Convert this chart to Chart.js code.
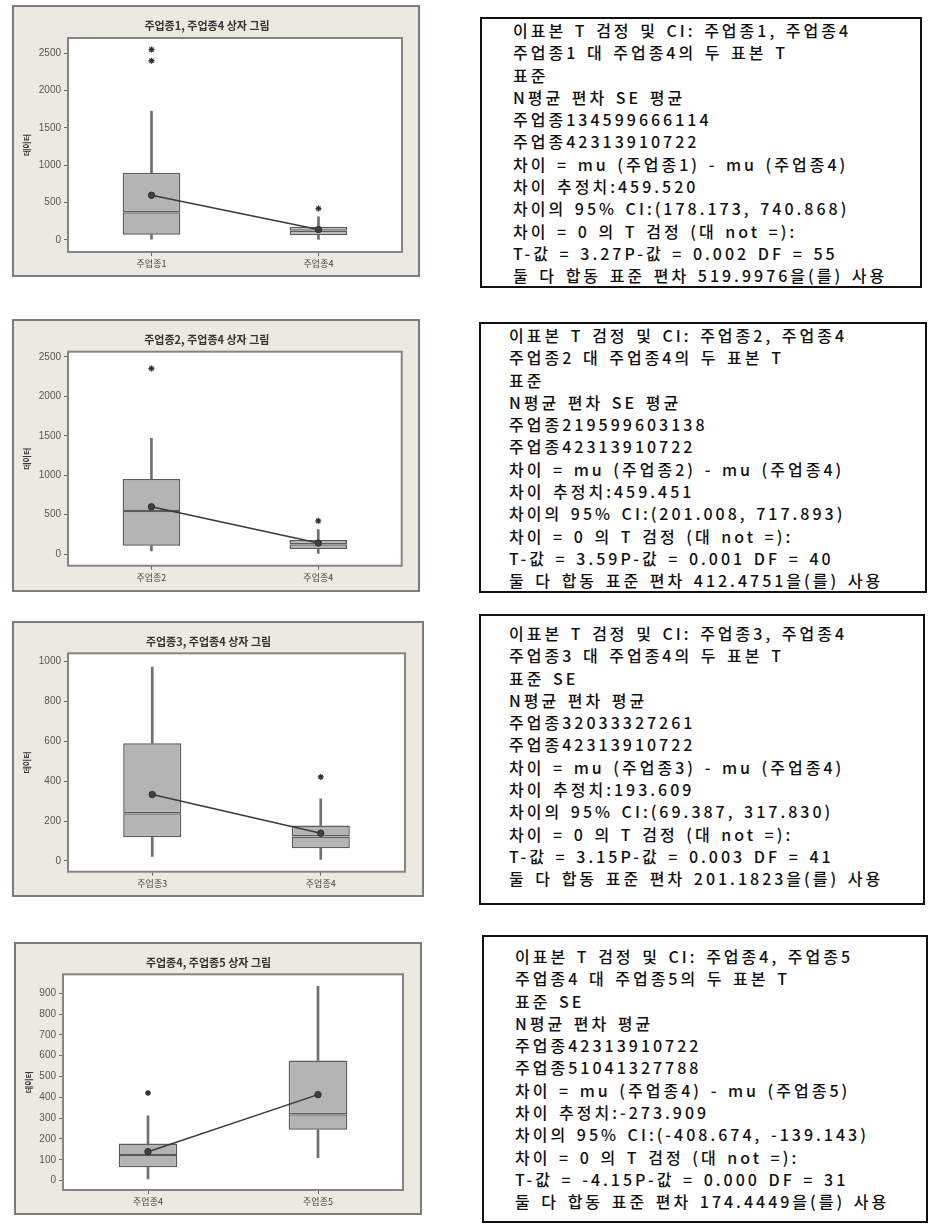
<!DOCTYPE html>
<html>
<head>
<meta charset="utf-8">
<script src="https://cdn.jsdelivr.net/npm/chart.js@4.4.1/dist/chart.umd.min.js"></script>
<style>
  html, body { margin: 0; padding: 0; background: #ffffff; }
  body { position: relative; width: 928px; height: 1225px; overflow: hidden; font-family: "Noto Sans CJK KR", sans-serif; }
  .plot { position: absolute; }
  .plot canvas { display: block; }
  .stats { position: absolute; box-sizing: border-box; border: 2px solid #111; color: #111;
           font: 500 16px "Noto Sans CJK KR", sans-serif; letter-spacing: 3px; word-spacing: 2px; white-space: pre; }
  .stats div { height: 22.3px; line-height: 22.3px; }
</style>
</head>
<body>
<div class="plot" id="p1" style="left:12px;top:5px"><canvas id="c1" width="408" height="272"></canvas></div>
<div class="plot" id="p2" style="left:12px;top:319px"><canvas id="c2" width="408" height="273"></canvas></div>
<div class="plot" id="p3" style="left:12px;top:621px"><canvas id="c3" width="412" height="276"></canvas></div>
<div class="plot" id="p4" style="left:14px;top:942px"><canvas id="c4" width="408" height="273"></canvas></div>

<div class="stats" id="s1" style="left:480px;top:17px;width:442px;height:271px;padding:0 0 0 31px"></div>
<div class="stats" id="s2" style="left:479px;top:322px;width:448px;height:271px;padding:0 0 0 28px"></div>
<div class="stats" id="s3" style="left:479px;top:614px;width:446px;height:291px;padding:6px 0 0 28px"></div>
<div class="stats" id="s4" style="left:482px;top:935px;width:446px;height:288px;padding:8px 0 0 31px"></div>

<script>
// Group summaries (box plot statistics per 업종)
const groupNames = ['주업종1', '주업종2', '주업종3', '주업종4', '주업종5'];
const whiskerLow = [10, 38, 22, 8, 110];
const quartile1 = [70, 105, 119, 64, 244];
const medians = [370, 545, 239, 123, 319];
const quartile3 = [900, 950, 590, 178, 577];
const whiskerHigh = [1725, 1466, 972, 311, 933];
const means = [599, 599, 333, 139, 413];
const outliers = [[2550, 2400], [2353], [], [421], []];

// Which two groups each plot compares
const pairs = [[0, 3], [1, 3], [2, 3], [3, 4]];
const plotTitles = ['주업종1, 주업종4 상자 그림', '주업종2, 주업종4 상자 그림', '주업종3, 주업종4 상자 그림', '주업종4, 주업종5 상자 그림'];
const yTicks1 = [0, 500, 1000, 1500, 2000, 2500];
const yTicks2 = [0, 500, 1000, 1500, 2000, 2500];
const yTicks3 = [0, 200, 400, 600, 800, 1000];
const yTicks4 = [0, 100, 200, 300, 400, 500, 600, 700, 800, 900];

// Two-sample t-test output text
const statsText1 = [
  '이표본 T 검정 및 CI: 주업종1, 주업종4',
  '주업종1 대 주업종4의 두 표본 T',
  '표준',
  'N평균 편차 SE 평균',
  '주업종134599666114',
  '주업종42313910722',
  '차이 = mu (주업종1) - mu (주업종4)',
  '차이 추정치:459.520',
  '차이의 95% CI:(178.173, 740.868)',
  '차이 = 0 의 T 검정 (대 not =):',
  'T-값 = 3.27P-값 = 0.002 DF = 55',
  '둘 다 합동 표준 편차 519.9976을(를) 사용'
];
const statsText2 = [
  '이표본 T 검정 및 CI: 주업종2, 주업종4',
  '주업종2 대 주업종4의 두 표본 T',
  '표준',
  'N평균 편차 SE 평균',
  '주업종219599603138',
  '주업종42313910722',
  '차이 = mu (주업종2) - mu (주업종4)',
  '차이 추정치:459.451',
  '차이의 95% CI:(201.008, 717.893)',
  '차이 = 0 의 T 검정 (대 not =):',
  'T-값 = 3.59P-값 = 0.001 DF = 40',
  '둘 다 합동 표준 편차 412.4751을(를) 사용'
];
const statsText3 = [
  '이표본 T 검정 및 CI: 주업종3, 주업종4',
  '주업종3 대 주업종4의 두 표본 T',
  '표준 SE',
  'N평균 편차 평균',
  '주업종32033327261',
  '주업종42313910722',
  '차이 = mu (주업종3) - mu (주업종4)',
  '차이 추정치:193.609',
  '차이의 95% CI:(69.387, 317.830)',
  '차이 = 0 의 T 검정 (대 not =):',
  'T-값 = 3.15P-값 = 0.003 DF = 41',
  '둘 다 합동 표준 편차 201.1823을(를) 사용'
];
const statsText4 = [
  '이표본 T 검정 및 CI: 주업종4, 주업종5',
  '주업종4 대 주업종5의 두 표본 T',
  '표준 SE',
  'N평균 편차 평균',
  '주업종42313910722',
  '주업종51041327788',
  '차이 = mu (주업종4) - mu (주업종5)',
  '차이 추정치:-273.909',
  '차이의 95% CI:(-408.674, -139.143)',
  '차이 = 0 의 T 검정 (대 not =):',
  'T-값 = -4.15P-값 = 0.000 DF = 31',
  '둘 다 합동 표준 편차 174.4449을(를) 사용'
];

// Beige panel, white plotting area and the grey frames
const panelPlugin = {
  id: 'panel',
  beforeDraw(chart) {
    const { ctx, width, height, chartArea: ca } = chart;
    ctx.save();
    ctx.fillStyle = '#ece9e1';
    ctx.fillRect(0, 0, width, height);
    ctx.fillStyle = '#ffffff';
    ctx.fillRect(ca.left, ca.top, ca.right - ca.left, ca.bottom - ca.top);
    ctx.restore();
  },
  afterDraw(chart) {
    const { ctx, width, height, chartArea: ca } = chart;
    ctx.save();
    ctx.lineWidth = 2;
    ctx.strokeStyle = '#848484';
    ctx.strokeRect(ca.left, ca.top, ca.right - ca.left, ca.bottom - ca.top);
    ctx.strokeStyle = '#7c7c7c';
    ctx.strokeRect(1, 1, width - 2, height - 2);
    ctx.restore();
  }
};

function boxPlot(canvasId, pairIndex, yMin, yMax, yTicks, inset) {
  const idx = pairs[pairIndex];
  const labels = idx.map(i => groupNames[i]);
  const pick = arr => idx.map(i => arr[i]);
  const range = (lo, hi) => idx.map(i => [lo[i], hi[i]]);
  const outlierPts = [];
  idx.forEach(i => outliers[i].forEach(v => outlierPts.push({ x: groupNames[i], y: v })));

  const boxStyle = {
    type: 'bar', grouped: false, barPercentage: 0.345, categoryPercentage: 1,
    backgroundColor: '#b4b4b4', borderColor: '#5c5c5c', borderWidth: 1.5, borderSkipped: false, order: 3
  };
  const whiskerStyle = {
    type: 'bar', grouped: false, barThickness: 2, categoryPercentage: 1,
    backgroundColor: '#707070', borderWidth: 0, order: 4
  };

  return new Chart(document.getElementById(canvasId), {
    type: 'bar',
    data: {
      labels,
      datasets: [
        Object.assign({ label: 'low whisker', data: range(whiskerLow, quartile1) }, whiskerStyle),
        Object.assign({ label: 'high whisker', data: range(quartile3, whiskerHigh) }, whiskerStyle),
        Object.assign({ label: 'Q1-median', data: range(quartile1, medians) }, boxStyle),
        Object.assign({ label: 'median-Q3', data: range(medians, quartile3) }, boxStyle),
        {
          type: 'line', label: '평균', data: pick(means), order: 1,
          borderColor: '#3a3a3a', borderWidth: 1.5,
          pointRadius: 3.2, pointBackgroundColor: '#404040', pointBorderColor: '#303030', pointBorderWidth: 1
        },
        {
          type: 'line', label: '이상치', data: outlierPts, showLine: false, order: 2,
          pointStyle: 'star', pointRadius: 3, pointBorderColor: '#333', pointBorderWidth: 1.3,
          pointBackgroundColor: '#333'
        }
      ]
    },
    options: {
      responsive: false,
      animation: false,
      devicePixelRatio: 1,
      layout: { padding: { left: 0, top: 0, right: inset.right, bottom: 0 } },
      plugins: {
        legend: { display: false },
        tooltip: { enabled: false },
        title: {
          display: true, text: plotTitles[pairIndex], color: '#333',
          font: { family: 'Noto Sans CJK KR', size: 11, weight: '600' },
          padding: { top: 14, bottom: inset.top - 13.2 - 14 }
        }
      },
      scales: {
        x: {
          type: 'category', offset: true,
          afterFit: s => { s.height = inset.bottom; },
          grid: { offset: false, drawOnChartArea: false, drawTicks: true, tickLength: 4, color: '#6a6a6a' },
          border: { display: false },
          ticks: { font: { family: 'Noto Sans CJK KR', size: 9 }, color: '#444', padding: 2 }
        },
        y: {
          min: yMin, max: yMax,
          afterBuildTicks: s => { s.ticks = yTicks.map(v => ({ value: v })); },
          afterFit: s => { s.width = inset.left; },
          grid: { drawOnChartArea: false, drawTicks: true, tickLength: 4, color: '#6a6a6a' },
          border: { display: false },
          ticks: { font: { family: 'Liberation Sans', size: 10 }, color: '#555', padding: 3, callback: v => String(v) },
          title: {
            display: true, text: '데이터', color: '#333',
            font: { family: 'Noto Sans CJK KR', size: 8, weight: 'bold' },
            padding: { top: 10, bottom: 0 }
          }
        }
      }
    },
    plugins: [panelPlugin]
  });
}

boxPlot('c1', 0, -161, 2705, yTicks1, { left: 56, top: 33, right: 18, bottom: 25 });
boxPlot('c2', 1, -148, 2566, yTicks2, { left: 56, top: 32.7, right: 18.3, bottom: 26.3 });
boxPlot('c3', 2, -54, 1041, yTicks3, { left: 56, top: 32.3, right: 19, bottom: 25.3 });
boxPlot('c4', 3, -45, 991, yTicks4, { left: 49, top: 32.3, right: 19, bottom: 25 });

// Fill the t-test output boxes
[[statsText1, 's1'], [statsText2, 's2'], [statsText3, 's3'], [statsText4, 's4']].forEach(([lines, id]) => {
  const box = document.getElementById(id);
  lines.forEach(t => {
    const row = document.createElement('div');
    row.textContent = t;
    box.appendChild(row);
  });
});
</script>
</body>
</html>
